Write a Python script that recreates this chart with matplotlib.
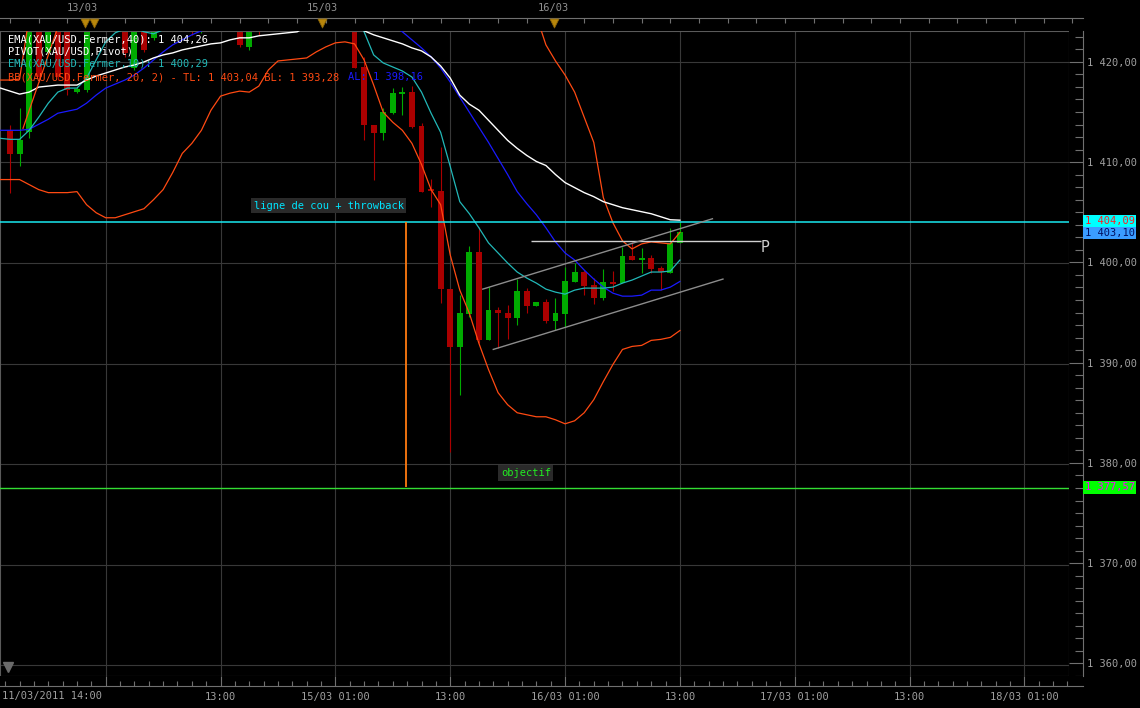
import matplotlib.pyplot as plt
import numpy as np
from matplotlib.ticker import FuncFormatter
from matplotlib.transforms import blended_transform_factory

# hourly XAU/USD candles, index 0..70
opens = [1413.1, 1410.8, 1413.0, 1427.0, 1421.0, 1426.0, 1423.5, 1417.0, 1417.2, 1425.0,
         1427.0, 1425.0, 1428.0, 1419.4, 1426.0, 1422.4, 1426.0, 1427.0, 1428.0, 1426.0,
         1425.0, 1426.0, 1427.0, 1426.0, 1425.0, 1421.5, 1426.0, 1424.0, 1426.0, 1427.0,
         1428.0, 1429.0, 1428.0, 1427.5, 1426.0, 1427.0, 1425.0, 1419.5, 1413.7, 1412.9,
         1414.9, 1416.8, 1417.0, 1413.6, 1407.3, 1407.2, 1397.4, 1391.6, 1394.9, 1401.1,
         1392.3, 1395.3, 1395.0, 1394.5, 1397.2, 1395.7, 1396.1, 1394.2, 1394.9, 1398.1,
         1399.1, 1397.8, 1396.5, 1398.1, 1398.0, 1400.7, 1400.3, 1400.5, 1399.5, 1399.0,
         1402.0]
highs = [1413.7, 1415.4, 1426.0, 1428.0, 1427.0, 1427.0, 1425.0, 1417.5, 1426.0, 1428.0,
         1428.0, 1429.0, 1429.0, 1426.0, 1427.0, 1427.0, 1428.0, 1429.0, 1429.0, 1427.5,
         1427.0, 1428.0, 1428.5, 1427.0, 1426.0, 1426.0, 1427.0, 1427.0, 1428.0, 1429.0,
         1430.0, 1431.0, 1430.0, 1429.0, 1428.0, 1428.0, 1426.0, 1420.5, 1413.7, 1415.4,
         1417.4, 1417.5, 1417.6, 1413.9, 1408.4, 1411.5, 1397.4, 1396.8, 1401.7, 1403.6,
         1397.6, 1395.6, 1395.8, 1398.4, 1397.5, 1396.1, 1396.4, 1396.5, 1399.6, 1400.0,
         1399.3, 1398.5, 1399.4, 1399.2, 1401.6, 1402.1, 1401.5, 1400.8, 1399.7, 1403.5,
         1404.1]
lows = [1407.0, 1409.6, 1412.4, 1418.0, 1420.8, 1418.2, 1416.7, 1416.9, 1417.0, 1424.0,
        1424.0, 1424.5, 1420.5, 1419.2, 1421.0, 1422.2, 1424.5, 1425.0, 1425.5, 1422.7,
        1422.9, 1424.5, 1425.0, 1423.8, 1421.5, 1421.2, 1422.7, 1423.5, 1425.0, 1425.5,
        1426.5, 1427.5, 1426.5, 1425.5, 1424.5, 1424.0, 1419.4, 1412.2, 1408.3, 1412.2,
        1414.8, 1414.7, 1413.4, 1407.1, 1405.6, 1396.0, 1381.2, 1386.9, 1394.6, 1392.0,
        1392.3, 1391.5, 1392.4, 1393.8, 1395.0, 1395.7, 1394.0, 1393.3, 1393.6, 1398.1,
        1396.8, 1395.9, 1396.3, 1397.2, 1398.0, 1400.3, 1399.0, 1399.0, 1397.3, 1399.0,
        1402.0]
closes = [1410.8, 1412.2, 1425.0, 1418.5, 1426.0, 1418.5, 1417.2, 1417.3, 1425.0, 1427.0,
          1425.0, 1428.0, 1420.9, 1425.0, 1421.2, 1426.0, 1427.0, 1428.0, 1426.0, 1425.0,
          1426.0, 1427.0, 1426.0, 1425.0, 1421.7, 1425.0, 1424.0, 1426.0, 1427.0, 1428.0,
          1429.0, 1428.0, 1427.5, 1426.0, 1427.0, 1425.0, 1419.4, 1413.7, 1412.9, 1415.0,
          1416.9, 1417.0, 1413.5, 1407.1, 1407.2, 1397.4, 1391.6, 1395.0, 1401.1, 1392.3,
          1395.3, 1395.0, 1394.5, 1397.2, 1395.7, 1396.1, 1394.2, 1395.0, 1398.2, 1399.1,
          1397.7, 1396.5, 1398.1, 1397.9, 1400.7, 1400.3, 1400.5, 1399.4, 1399.1, 1402.0,
          1403.1]

# indicators, index -1..70
line_x = np.arange(-1, 71)
ema40 = [1417.4, 1417.1, 1416.8, 1417.0, 1417.5, 1417.6, 1417.7, 1417.7, 1417.7, 1418.2,
         1418.6, 1418.9, 1419.2, 1419.5, 1419.7, 1420.0, 1420.4, 1420.7, 1420.9, 1421.2,
         1421.4, 1421.6, 1421.8, 1421.9, 1422.2, 1422.4, 1422.4, 1422.6, 1422.7, 1422.8,
         1422.9, 1423.0, 1423.5, 1424.0, 1424.3, 1424.4, 1424.2, 1423.8, 1423.1, 1422.7,
         1422.4, 1422.1, 1421.8, 1421.4, 1421.1, 1420.5, 1419.6, 1418.4, 1416.7, 1415.8,
         1415.2, 1414.2, 1413.2, 1412.2, 1411.4, 1410.7, 1410.1, 1409.7, 1408.8, 1408.0,
         1407.5, 1407.0, 1406.6, 1406.1, 1405.8, 1405.5, 1405.3, 1405.1, 1404.9, 1404.6,
         1404.3, 1404.26]
ema10 = [1412.4, 1412.3, 1412.3, 1413.2, 1414.5, 1415.9, 1417.0, 1417.4, 1417.4, 1418.4,
         1420.2, 1422.0, 1422.9, 1423.3, 1423.4, 1423.0, 1422.8, 1423.2, 1424.0, 1424.8,
         1425.3, 1425.6, 1425.8, 1426.0, 1426.0, 1425.6, 1425.2, 1425.0, 1425.2, 1425.5,
         1425.8, 1426.0, 1426.2, 1426.4, 1426.5, 1426.3, 1425.6, 1424.4, 1423.0, 1420.7,
         1419.9, 1419.5, 1419.1, 1418.5, 1417.0, 1414.9, 1413.0, 1409.6, 1406.1, 1404.9,
         1403.5, 1402.0, 1401.0, 1400.0, 1399.1, 1398.5, 1398.0, 1397.4, 1397.1, 1396.9,
         1397.3, 1397.5, 1397.5, 1397.5, 1397.6, 1398.0, 1398.3, 1398.7, 1399.1, 1399.1,
         1399.2, 1400.29]
bb_mid = [1413.2, 1413.2, 1413.2, 1413.3, 1413.8, 1414.3, 1414.9, 1415.1, 1415.3, 1415.9,
          1416.7, 1417.4, 1417.8, 1418.2, 1418.7, 1419.4, 1420.2, 1421.0, 1421.7, 1422.2,
          1422.7, 1423.1, 1423.5, 1423.9, 1424.2, 1424.4, 1424.6, 1424.8, 1425.0, 1425.2,
          1425.4, 1425.6, 1425.7, 1425.8, 1425.8, 1425.7, 1425.5, 1425.2, 1424.9, 1424.5,
          1424.1, 1423.6, 1423.0, 1422.2, 1421.4, 1420.5, 1419.4, 1418.0, 1416.5, 1415.0,
          1413.5, 1412.0, 1410.4, 1408.8, 1407.1, 1405.9, 1404.8, 1403.5, 1402.1, 1401.0,
          1400.3, 1399.3, 1398.4, 1397.6, 1397.0, 1396.7, 1396.7, 1396.8, 1397.3, 1397.3,
          1397.6, 1398.16]
bb_up = [1418.2, 1418.2, 1418.3, 1424.5, 1426.0, 1427.5, 1428.5, 1429.0, 1429.5, 1430.0,
         1430.5, 1430.3, 1431.0, 1431.6, 1432.3, 1433.4, 1434.1, 1434.7, 1434.4, 1433.5,
         1433.5, 1433.0, 1431.8, 1431.2, 1431.5, 1431.7, 1432.2, 1432.0, 1430.8, 1430.3,
         1430.6, 1430.9, 1431.0, 1430.6, 1430.1, 1429.5, 1429.0, 1428.6, 1429.6, 1431.3,
         1433.2, 1433.2, 1432.8, 1432.5, 1433.0, 1433.7, 1434.0, 1435.2, 1435.7, 1435.0,
         1435.0, 1434.6, 1433.7, 1431.7, 1429.1, 1426.9, 1424.6, 1421.7, 1420.1, 1418.7,
         1417.0, 1414.5, 1412.0, 1406.5, 1404.0, 1402.2, 1401.4, 1401.9, 1402.1, 1402.0,
         1401.9, 1403.04]
bb_low = [1408.3, 1408.3, 1408.3, 1407.8, 1407.3, 1407.0, 1407.0, 1407.0, 1407.1, 1405.8,
          1405.0, 1404.5, 1404.5, 1404.8, 1405.1, 1405.4, 1406.3, 1407.3, 1409.0, 1410.9,
          1411.9, 1413.2, 1415.2, 1416.6, 1416.9, 1417.1, 1417.0, 1417.6, 1419.2, 1420.1,
          1420.2, 1420.3, 1420.4, 1421.0, 1421.5, 1421.9, 1422.0, 1421.8, 1420.2, 1417.7,
          1415.0, 1414.0, 1413.2, 1411.9, 1409.8, 1407.3, 1405.8, 1400.8, 1397.3, 1395.0,
          1392.0, 1389.4, 1387.1, 1385.9, 1385.1, 1384.9, 1384.7, 1384.7, 1384.4, 1384.0,
          1384.3, 1385.1, 1386.4, 1388.2, 1389.9, 1391.4, 1391.7, 1391.8, 1392.3, 1392.4,
          1392.6, 1393.28]

neckline = 1404.09
target = 1377.57
pivot = 1402.19
last_close = 1403.10
chan_up_x, chan_up_y = [49.4, 73.4], [1397.4, 1404.4]
chan_lo_x, chan_lo_y = [50.5, 74.5], [1391.4, 1398.4]
trend_x, trend_y = [1.36, 5.2], [1413.4, 1424.0]

grid_x = [10, 22, 34, 46, 58, 70, 82, 94, 106]
bottom_labels = ['', '13:00', '15/03 01:00', '13:00', '16/03 01:00', '13:00',
                 '17/03 01:00', '13:00', '18/03 01:00']
day_x = [7.6, 32.6, 56.8]
day_labels = ['13/03', '15/03', '16/03']
event_x = [7.8, 8.8, 32.6, 56.8]
price_ticks = [1360, 1370, 1380, 1390, 1400, 1410, 1420]

# layout in pixels
W, H = 1140, 708
PX, X0 = 9.57, 10.0
def rect(x0, y0, x1, y1):
    return [x0 / W, 1 - y1 / H, (x1 - x0) / W, (y1 - y0) / H]
def ix(px):
    return (px - X0) / PX

MONO = 'DejaVu Sans Mono'
FS = 7.5
FRAME = '#5a5a5a'
TXT = '#a0a0a0'

fig = plt.figure(figsize=(11.4, 7.08), dpi=100)
fig.patch.set_facecolor('black')

ax = fig.add_axes(rect(0, 31, 1069, 676))
ax.set_facecolor('black')
ax.set_xlim(ix(0), ix(1069))
ax.set_ylim(1358.91, 1423.08)
ax.set_xticks(grid_x)
ax.set_yticks(price_ticks)
ax.grid(True, color='#383838', lw=0.8)
ax.set_axisbelow(True)
ax.tick_params(length=0, labelbottom=False, labelleft=False)
for s in ax.spines.values():
    s.set_color(FRAME)
    s.set_linewidth(0.8)

# candles
idx = np.arange(len(opens))
o, h, l, c = map(np.array, (opens, highs, lows, closes))
col = np.where(c >= o, '#00aa00', '#aa0000')
body = np.abs(c - o)
hb = np.maximum(body, 0.22)
ax.vlines(idx, l, h, colors=col, lw=0.8, zorder=2)
ax.bar(idx, hb, bottom=np.minimum(o, c) - (hb - body) / 2, width=0.62,
       color=col, lw=0, zorder=2)

# indicators
ax.plot(line_x, bb_up, color='#ff4a12', lw=0.9, zorder=3)
ax.plot(line_x, bb_low, color='#ff4a12', lw=0.9, zorder=3)
ax.plot(line_x, bb_mid, color='#1a1aff', lw=0.9, zorder=3)
ax.plot(line_x, ema10, color='#22b8b8', lw=0.9, zorder=3)
ax.plot(line_x, ema40, color='white', lw=1.0, zorder=3)
ax.plot(trend_x, trend_y, color='#ff4a12', lw=0.9, zorder=3)

# drawings
ax.axhline(neckline, color='#19e8f0', lw=1.1, zorder=4)
ax.axhline(target, color='#33dd33', lw=1.0, zorder=4)
ax.vlines(41.4, target + 0.1, neckline, color='#ff7a10', lw=1.3, zorder=4)
ax.hlines(pivot, 54.4, 78.5, color='#d0d0d0', lw=1.0, zorder=4)
ax.plot(chan_up_x, chan_up_y, color='#8c8c8c', lw=1.0, zorder=4)
ax.plot(chan_lo_x, chan_lo_y, color='#8c8c8c', lw=1.0, zorder=4)
ax.text(78.9, 1401.5, 'P', color='#d0d0d0', fontsize=10.5, family='DejaVu Sans',
        ha='center', va='center', zorder=5)
ax.text(33.3, 1405.7, 'ligne de cou + throwback', color='#00e5ff', fontsize=FS,
        family=MONO, ha='center', va='center', zorder=5,
        bbox=dict(boxstyle='square,pad=0.25', facecolor='#2a2a2a', edgecolor='none'))
ax.text(53.9, 1379.1, 'objectif', color='#22ee22', fontsize=FS, family=MONO,
        ha='center', va='center', zorder=5,
        bbox=dict(boxstyle='square,pad=0.25', facecolor='#2a2a2a', edgecolor='none'))
ax.plot([-0.2], [1359.8], marker='v', color='#6a6a6a', ms=7, clip_on=False, zorder=5)

# legend text
def ftxt(xp, yp, s, color):
    fig.text(xp / W, 1 - yp / H, s, color=color, fontsize=FS, family=MONO,
             ha='left', va='center')
ftxt(8, 40, 'EMA(XAU/USD.Fermer,40): 1 404,26', 'white')
ftxt(8, 52, 'PIVOT(XAU/USD,Pivot)', 'white')
ftxt(8, 64, 'EMA(XAU/USD.Fermer,10): 1 400,29', '#22b8b8')
ftxt(8, 77, 'BB(XAU/USD.Fermer, 20, 2) - TL: 1 403,04 BL: 1 393,28', '#ff4a12')
ftxt(348, 77, 'AL: 1 398,16', '#1a1aff')

# right price axis
axr = fig.add_axes(rect(1069, 31, 1083, 676))
axr.set_facecolor('black')
axr.set_ylim(ax.get_ylim())
axr.set_xticks([])
for s in ['left', 'top', 'bottom']:
    axr.spines[s].set_visible(False)
axr.spines['right'].set_color('#707070')
axr.yaxis.tick_right()
axr.set_yticks(price_ticks)
axr.set_yticks(np.arange(1358.75, 1423, 1.25), minor=True)
axr.tick_params(axis='y', which='major', direction='in', length=10, width=0.8,
                colors='#707070', labelcolor=TXT, labelsize=FS, pad=3)
axr.tick_params(axis='y', which='minor', direction='in', length=5.8, width=0.8,
                colors='#707070')
axr.yaxis.set_major_formatter(FuncFormatter(lambda v, p: f'{int(v) // 1000} {int(v) % 1000:03d},00'))
for t in axr.get_yticklabels():
    t.set_family(MONO)

tr = blended_transform_factory(axr.transAxes, axr.transData)
def price_box(y, s, fc, tc):
    axr.text(1.12, y, s, transform=tr, color=tc, fontsize=FS, family=MONO,
             ha='left', va='center', clip_on=False,
             bbox=dict(boxstyle='square,pad=0.12', facecolor=fc, edgecolor='none'))
price_box(last_close - 0.15, '1 403,10', '#3a9cff', '#001060')
price_box(neckline + 0.05, '1 404,09', '#00ffff', '#ff2020')
price_box(target, '1 377,57', '#00ff00', '#ff00ff')

# bottom time axis
axb = fig.add_axes(rect(0, 676, 1083, 686))
axb.set_facecolor('black')
axb.set_xlim(ix(0), ix(1083))
axb.set_yticks([])
for s in ['left', 'top', 'right']:
    axb.spines[s].set_visible(False)
axb.spines['bottom'].set_color('#707070')
axb.set_xticks(grid_x)
axb.set_xticklabels(bottom_labels)
axb.set_xticks(np.arange(-0.5, 112, 1.5), minor=True)
axb.tick_params(axis='x', which='major', direction='in', length=7, width=0.8,
                colors='#707070', labelcolor=TXT, labelsize=FS, pad=4)
axb.tick_params(axis='x', which='minor', direction='in', length=3.6, width=0.8,
                colors='#707070')
for t in axb.get_xticklabels():
    t.set_family(MONO)
axb.text(2 / 1083, -1.05, '11/03/2011 14:00', transform=axb.transAxes, color=TXT,
         fontsize=FS, family=MONO, ha='left', va='center')

# top date strip
axt = fig.add_axes(rect(0, 18, 1083, 31))
axt.set_facecolor('black')
axt.set_xlim(ix(0), ix(1083))
axt.set_ylim(0, 1)
axt.set_yticks([])
for s in ['left', 'bottom', 'right']:
    axt.spines[s].set_visible(False)
axt.spines['top'].set_color('#707070')
axt.xaxis.tick_top()
axt.set_xticks(np.arange(0, 112, 3))
axt.tick_params(axis='x', direction='in', length=3.6, width=0.8, colors='#707070',
                labeltop=False, labelbottom=False)
for x, s in zip(day_x, day_labels):
    axt.text(x, 1.78, s, color='#909090', fontsize=FS, family=MONO,
             ha='center', va='center', clip_on=False)
axt.scatter(event_x, [0.6] * len(event_x), marker='v', s=42, color='#b8860b',
            edgecolors='#8a6408', linewidths=0.6, zorder=3)

fig.savefig('out.png', dpi=100, facecolor='black')
